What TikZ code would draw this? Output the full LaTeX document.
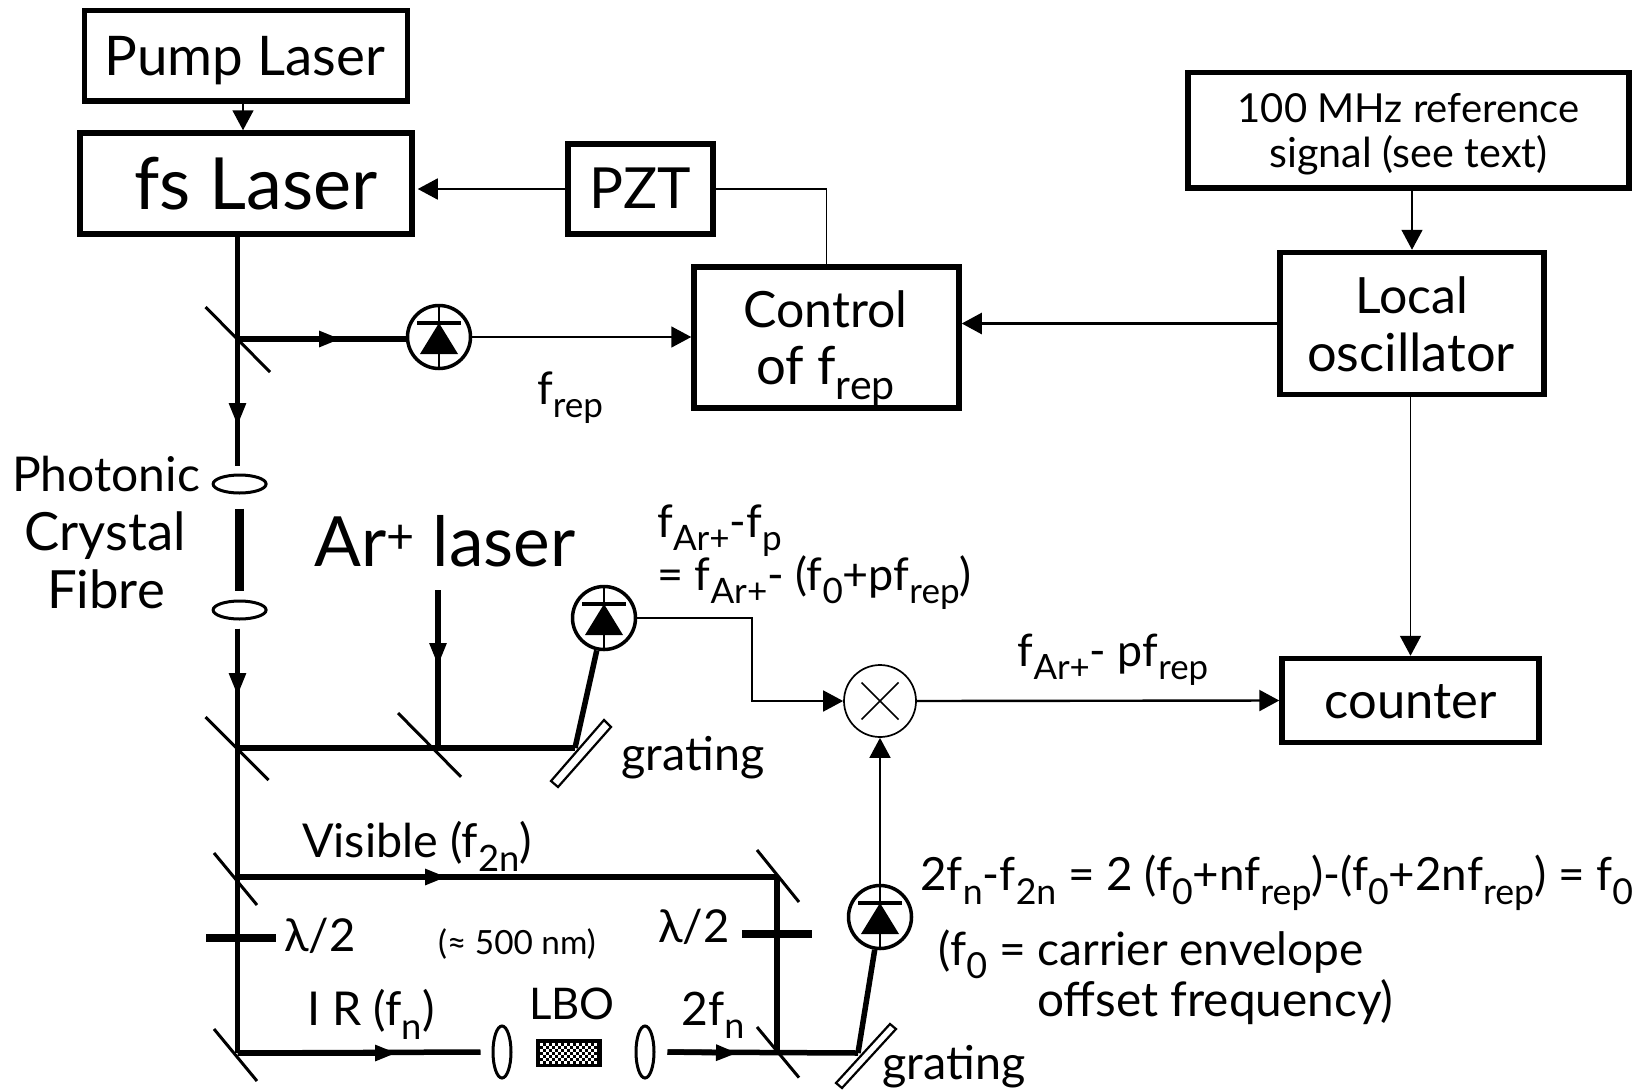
\documentclass[tikz,border=0pt]{standalone}
\usepackage{fontspec}
\setmainfont{Lato}
\usetikzlibrary{arrows.meta,shapes.geometric,calc}
\newlength\px \setlength\px{0.75pt}
\newcommand\fsz[1]{\fontsize{#1}{#1}\selectfont}
% text line placed by its baseline, relative to the centre of its node
\newcommand\lineat[3]{\smash{\makebox[0pt][c]{\hspace*{\dimexpr #1\px*2\relax}\raisebox{\dimexpr -#2\px\relax}{#3}}}}
\newcommand\sbs[1]{\raisebox{-.3em}{\scalebox{.78}{#1}}}
\tikzset{
  x=0.75pt,y=-0.75pt,
  box/.style={draw,line width=5.5\px,rectangle,inner sep=0pt,outer sep=.5\pgflinewidth,align=center},
  lbl/.style={inner sep=0pt,anchor=base},
  wire/.style={line width=1.7\px},
  heavywire/.style={line width=2.4\px},
  beam/.style={line width=5.5\px},
  mirrorline/.style={line width=3\px},
  plate/.style={line width=7.5\px},
  thintip/.style={-{Triangle[length=15pt,width=15.75pt]}},
  beamtip/.style={-{Triangle[length=17.25pt,width=12pt]}},
  beamtiph/.style={-{Triangle[length=16.5pt,width=11.25pt]}},
  lens/.style={draw,ellipse,line width=3\px,inner sep=0pt},
  pdcircle/.style={draw,circle,line width=3.5\px,minimum size=63\px,inner sep=0pt},
  mixer/.style={draw,circle,line width=1.7\px,minimum size=72\px,inner sep=0pt},
}
\newcommand\photodiode[3]{%
  \node[pdcircle] (#1) at (#2,#3) {};
  \draw[line width=2.5\px] (#1.north) -- (#1.south);
  \draw[line width=3.5\px] (#2-22,#3-14) -- (#2+22,#3-14);
  \fill (#2,#3-14) -- (#2+19,#3+17) -- (#2-19,#3+17) -- cycle;
}
\begin{document}
\begin{tikzpicture}
\useasboundingbox (0,0) rectangle (1648,1089);
% boxes
\node[box,minimum width=323\px,minimum height=90.5\px] (pump) at (246,55.75) {\fsz{41}\lineat{-1}{20}{Pump Laser}};
\node[box,minimum width=332\px,minimum height=101\px] (fsl) at (246,183.5) {\fsz{54}\lineat{10}{26}{fs Laser}};
\node[box,minimum width=145\px,minimum height=90\px] (pzt) at (640.5,189) {\fsz{42.5}\lineat{0}{19.5}{PZT}};
\node[box,minimum width=265\px,minimum height=141\px] (ctrl) at (826.5,337.5) {\fsz{37.5}\lineat{-1}{-10.5}{Control}\fsz{39.5}\lineat{-1}{46.5}{of f\sbs{rep}}};
\node[box,minimum width=441\px,minimum height=115.5\px] (ref) at (1408.5,130.25) {\fsz{30}\lineat{0}{-7.5}{100 MHz reference}\fsz{31}\lineat{0}{37}{signal (see text)}};
\node[box,minimum width=264\px,minimum height=142\px] (local) at (1412,323.5) {\fsz{37.5}\lineat{0}{-10.5}{Local}\fsz{39.3}\lineat{-1}{47.5}{oscillator}};
\node[box,minimum width=257\px,minimum height=84\px] (counter) at (1410.5,700.5) {\fsz{38}\lineat{0}{17.5}{counter}};
% detectors and mixer
\photodiode{pda}{439}{337}
\photodiode{pdb}{604}{618}
\photodiode{pdc}{880}{917}
\node[mixer] (mix) at (880,701) {};
\draw[wire] (mix.center) ++(-18.5,-18.5) -- ++(37,37) ++(0,-37) -- ++(-37,37);
% lenses
\node[lens,minimum width=53\px,minimum height=18\px] (lensa) at (239.6,484) {};
\node[lens,minimum width=53\px,minimum height=18\px] (lensb) at (239.6,610) {};
\node[lens,minimum width=18\px,minimum height=52\px] (lensc) at (502,1052) {};
\node[lens,minimum width=18\px,minimum height=52\px] (lensd) at (645,1052) {};
% beam points
\coordinate (ma) at (237.5,339);
\coordinate (mb) at (237.5,748);
\coordinate (mc) at (438,748);
\coordinate (md) at (237.5,877);
\coordinate (me) at (777,877);
\coordinate (mf) at (237.5,1053);
\coordinate (mg) at (777,1053);
\coordinate (ga) at (575,748);
\coordinate (gb) at (858,1053);
\coordinate (artop) at (438,590);
\coordinate (wirebend) at (752,660);
% mirrors
\draw[mirrorline] (ma) ++(-32,-32) -- ++(64.5,65);
\draw[mirrorline] (mb) ++(-32,-31) -- ++(63,63);
\draw[mirrorline] (mc) ++(-40,-35) -- ++(63,63.8);
\draw[mirrorline] (md) ++(-23.5,-24) -- ++(43,52);
\draw[mirrorline] (me) ++(-20,-27) -- ++(42,52);
\draw[mirrorline] (mf) ++(-23.5,-24) -- ++(43,52);
\draw[mirrorline] (mg) ++(-20,-26) -- ++(42,50.6);
% gratings
\draw[line width=2.2\px] (604,720) -- (611,727) -- (558,787) -- (551,781) -- cycle;
\draw[line width=2.2\px] (890,1024) -- (896,1029) -- (842,1088) -- (836,1083) -- cycle;
% beams: the full line, then its arrowhead on top
\coordinate (hb) at (237.5,426);
\draw[beam] (fsl.south -| ma) -- ([yshift=8\px]lensa.north -| ma);
\draw[beam,beamtip] (fsl.south -| ma) -- (hb);
\coordinate (hc) at (341,339);
\draw[beam] (ma) -- (pda.west |- ma);
\draw[beam,beamtiph] (ma) -- (hc);
\draw[line width=9\px] ([yshift=-14\px]lensa.south) -- ([yshift=9\px]lensb.north);
\coordinate (hd) at (237.5,696);
\draw[beam] ([yshift=-8\px]lensb.south -| ma) -- (mb);
\draw[beam,beamtip] ([yshift=-8\px]lensb.south -| ma) -- (hd);
\coordinate (he) at (438,666);
\draw[beam] (artop) -- (mc);
\draw[beam,beamtip] (artop) -- (he);
\draw[beam] (mb) -- (ga);
\draw[beam] (ga) -- (pdb);
\draw[beam] (mb) -- (mf);
\coordinate (hf) at (447,877);
\draw[beam] (md) -- (me);
\draw[beam,beamtiph] (md) -- (hf);
\draw[beam] (me) -- (mg);
\coordinate (hg) at (397,1053);
\draw[beam] (mf) -- ([xshift=-11\px]lensc.west);
\draw[beam,beamtiph] (mf) -- (hg);
\coordinate (hh) at (738,1053);
\draw[beam] ([xshift=12\px]lensd.east) -- (gb);
\draw[beam,beamtiph] ([xshift=12\px]lensd.east) -- (hh);
\draw[beam] (gb) -- (pdc);
% wave plates
\draw[plate] (206,938) -- (276,938);
\draw[plate] (742,934) -- (812,934);
% LBO crystal
\fill (536,1039) rectangle (602,1066.5);
\foreach \i in {0,...,18}{\foreach \j in {0,...,6}{%
  \pgfmathtruncatemacro\k{mod(\i+\j,2)}%
  \ifnum\k=0 \fill[white] (540+3*\i,1043+3*\j) rectangle ++(3,3);\fi}}
% signal connectors
\draw[wire,thintip] ([xshift=-3\px]pump.south) -- ([xshift=-3\px]fsl.north);
\draw[wire,thintip] (pzt.west) -- ([xshift=3\px]pzt.west -| fsl.east);
\draw[wire] (pzt.east) -| (ctrl.north);
\draw[wire,thintip] (pda.east) -- (pda.east -| ctrl.west);
\draw[heavywire,thintip] (local.west) -- (local.west -| ctrl.east);
\draw[wire,thintip] (ref.south -| local.north) -- (local.north);
\draw[wire,thintip] (local.south -| counter.north) -- (counter.north);
\draw[wire,thintip] (pdb.east) -| (wirebend) |- (mix.west);
\draw[heavywire,thintip] (mix.east) -- (counter.west);
\draw[wire,thintip] (pdc.north) -- (mix.south);
% labels
\node[lbl] (tfrep) at (570,404) {\fsz{33.7}f\sbs{rep}};
\node[lbl] (tpcf) at (106,491) {\fsz{36}Photonic};
\node[lbl] (tpcg) at (105,550) {\fsz{39.5}Crystal};
\node[lbl] (tpch) at (106,608) {\fsz{39.5}Fibre};
\node[lbl] (tar) at (445,566) {\fsz{52}Ar\textsuperscript{+} laser};
\node[lbl,anchor=base west] (tbeat) at (657,537) {\fsz{33.7}f\sbs{Ar+}-f\sbs{p}};
\node[lbl,anchor=base west] (tbeatb) at (657,590) {\fsz{33.7}= f\sbs{Ar+}- (f\sbs{0}+pf\sbs{rep})};
\node[lbl] (tga) at (693,770) {\fsz{35}grating};
\node[lbl] (tgb) at (954,1079) {\fsz{35}grating};
\node[lbl] (tdiff) at (1113,666.5) {\fsz{33.5}f\sbs{Ar+}- pf\sbs{rep}};
\node[lbl,anchor=base west] (tfo) at (920,890.5) {\fsz{34.3}2f\sbs{n}-f\sbs{2n} = 2 (f\sbs{0}+nf\sbs{rep})-(f\sbs{0}+2nf\sbs{rep}) = f\sbs{0}};
\node[lbl,anchor=base west] (tcar) at (938.5,965) {\fsz{34.5}(f\sbs{0} = carrier envelope};
\node[lbl,anchor=base west] (toff) at (1037,1016.5) {\fsz{35.8}offset frequency)};
\node[lbl] (tvis) at (417,857.5) {\fsz{35}Visible (f\sbs{2n})};
\node[lbl] (thwa) at (320,951) {\fsz{34}λ/2};
\node[lbl] (thwb) at (694,942.6) {\fsz{34}λ/2};
\node[lbl] (tnm) at (517,954) {\fsz{25}(≈ 500 nm)};
\node[lbl] (tir) at (371,1025) {\fsz{35}I R (f\sbs{n})};
\node[lbl] (tlbo) at (572,1019) {\fsz{32.7}LBO};
\node[lbl] (ttwo) at (713,1025) {\fsz{34.6}2f\sbs{n}};
\end{tikzpicture}
\end{document}
